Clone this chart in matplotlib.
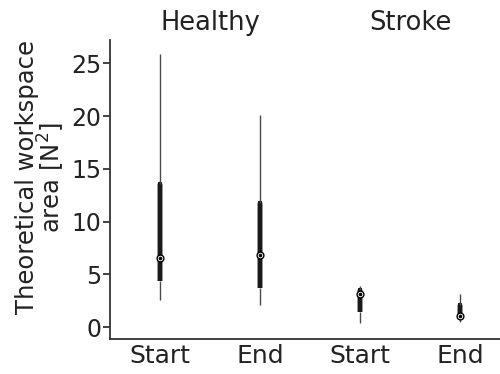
import matplotlib
matplotlib.use("Agg")
import matplotlib.pyplot as plt

groups = ["Healthy", "Stroke"]
conditions = ["Start", "End", "Start", "End"]
whisker_low = [2.6, 2.1, 0.4, 0.5]
box_low = [4.4, 3.7, 1.4, 0.85]
medians = [6.6, 6.8, 3.1, 1.1]
box_high = [13.6, 11.8, 3.5, 2.1]
whisker_high = [25.9, 20.1, 3.9, 3.1]
yticks = [0, 5, 10, 15, 20, 25]

plt.rcParams["font.family"] = ["DejaVu Sans"]

fig = plt.figure(figsize=(5.0, 3.74), dpi=100)
ax = fig.add_axes([0.22, 0.094, 0.78, 0.799])

positions = list(range(1, len(conditions) + 1))
stats = []
for lo, q1, med, q3, hi in zip(whisker_low, box_low, medians, box_high, whisker_high):
    stats.append(dict(whislo=lo, q1=q1, med=med, q3=q3, whishi=hi, fliers=[]))

parts = ax.bxp(stats, positions=positions, showcaps=False, showfliers=False,
               widths=0.0, patch_artist=False,
               boxprops=dict(color="#1a1a1a", linewidth=3.2),
               whiskerprops=dict(color="#4a4a4a", linewidth=1.0),
               medianprops=dict(linewidth=0))
for line in parts["boxes"] + parts["whiskers"]:
    line.set_solid_capstyle("butt")

# median markers: white ring with a dark centre dot
ax.scatter(positions, medians, s=24, facecolor="white", edgecolor="black",
           linewidths=1.0, zorder=5)
ax.scatter(positions, medians, s=2.5, color="black", zorder=6)

ax.set_xlim(0.5, 4.4)
ax.set_ylim(-1.1, 27.2)
ax.set_yticks(yticks)
ax.set_xticks(positions)
ax.set_xticklabels(conditions)
ax.tick_params(axis="x", labelsize=18, colors="#222222", length=0, pad=4)
ax.tick_params(axis="y", labelsize=17, colors="#222222", length=5,
               width=1.2, pad=1)

for side in ("top", "right"):
    ax.spines[side].set_visible(False)
for side in ("left", "bottom"):
    ax.spines[side].set_color("#333333")
    ax.spines[side].set_linewidth(1.3)

ax.set_ylabel("Theoretical workspace\narea [N$^2$]", fontsize=17.5,
              color="#222222", linespacing=0.9)
ax.yaxis.set_label_coords(-0.11, 0.54)

for label, x in zip(groups, [1.5, 3.5]):
    ax.text(x, 1.015, label, transform=ax.get_xaxis_transform(),
            ha="center", va="bottom", fontsize=18.5, color="#222222")

fig.savefig("out.png", dpi=100)
